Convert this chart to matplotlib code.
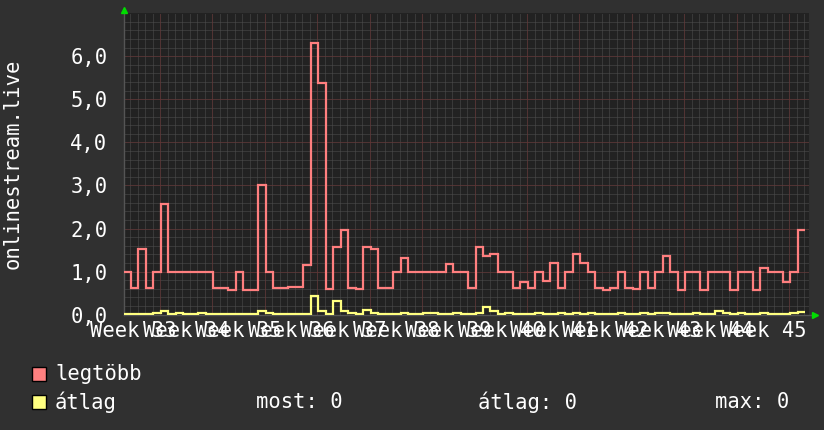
import matplotlib.pyplot as plt
from matplotlib.patches import Rectangle
import numpy as np

W, H, DPI = 824, 430, 100

# ── data: one value per day, 91 days ─────────────────────────────────────────
legtobb = [
    1.0, 0.63, 1.53, 0.63, 1.0, 2.56, 1.0, 1.0, 1.0, 1.0,
    1.0, 1.0, 0.63, 0.63, 0.57, 1.0, 0.57, 0.57, 3.0, 1.0,
    0.61, 0.61, 0.64, 0.64, 1.15, 6.31, 5.37, 0.59, 1.56, 1.97,
    0.61, 0.59, 1.58, 1.53, 0.61, 0.61, 1.0, 1.31, 1.0, 1.0,
    1.0, 1.0, 1.0, 1.18, 1.0, 1.0, 0.63, 1.56, 1.36, 1.42,
    1.0, 1.0, 0.61, 0.77, 0.61, 1.0, 0.79, 1.21, 0.61, 1.0,
    1.40, 1.19, 1.0, 0.61, 0.57, 0.61, 1.0, 0.61, 0.60, 1.0,
    0.61, 1.0, 1.37, 1.0, 0.57, 1.0, 1.0, 0.57, 1.0, 1.0,
    1.0, 0.57, 1.0, 1.0, 0.57, 1.09, 1.0, 1.0, 0.77, 1.0,
    1.97,
]
atlag = [
    0.02, 0.02, 0.02, 0.02, 0.05, 0.09, 0.02, 0.03, 0.02, 0.02,
    0.03, 0.02, 0.02, 0.02, 0.02, 0.02, 0.02, 0.02, 0.09, 0.04,
    0.02, 0.02, 0.02, 0.02, 0.02, 0.43, 0.09, 0.02, 0.32, 0.09,
    0.04, 0.02, 0.12, 0.05, 0.02, 0.02, 0.02, 0.05, 0.02, 0.02,
    0.03, 0.05, 0.02, 0.02, 0.03, 0.02, 0.02, 0.05, 0.18, 0.08,
    0.02, 0.03, 0.02, 0.02, 0.02, 0.03, 0.02, 0.02, 0.03, 0.02,
    0.03, 0.02, 0.05, 0.02, 0.02, 0.02, 0.03, 0.02, 0.02, 0.03,
    0.02, 0.03, 0.03, 0.02, 0.02, 0.02, 0.03, 0.02, 0.02, 0.08,
    0.04, 0.02, 0.03, 0.02, 0.02, 0.03, 0.02, 0.02, 0.02, 0.04,
    0.07,
]
week_labels = ["Week 33", "Week 34", "Week 35", "Week 36", "Week 37",
               "Week 38", "Week 39", "Week 40", "Week 41", "Week 42",
               "Week 43", "Week 44", "Week 45"]
y_ticks = [0, 1, 2, 3, 4, 5, 6]
y_tick_labels = ["0,0", "1,0", "2,0", "3,0", "4,0", "5,0", "6,0"]
legend_items = [("legtöbb", "#ff8080"), ("átlag", "#ffff80")]
stats = [("most: 0", 256), ("átlag: 0", 478), ("max: 0", 715)]

# ── style ────────────────────────────────────────────────────────────────────
BG = "#303030"
CANVAS = "#222222"
MINOR = "#505050"
MAJOR = "#6a2e2e"
FONT = "DejaVu Sans Mono"
FS = 14.8

X0, X1 = 0.07, 0.07 + 685 / 7.49
FIRST_MAJOR = 4.88

fig = plt.figure(figsize=(W / DPI, H / DPI), dpi=DPI, facecolor=BG)
ax = fig.add_axes([124 / W, (H - 314.7) / H, 685 / W, 301.6 / H], facecolor=CANVAS)
ax.set_xlim(X0, X1)
ax.set_ylim(0, 7)

# grid: daily / 0.2 minor, weekly / 1.0 major
for x in np.arange(FIRST_MAJOR - 4, X1, 1.0):
    ax.axvline(x, color=MINOR, lw=0.72, dashes=(1, 1), zorder=1)
for y in np.arange(0.2, 7.0, 0.2):
    ax.axhline(y, color=MINOR, lw=0.72, dashes=(1, 1), zorder=1)
for x in np.arange(FIRST_MAJOR, X1, 7.0):
    ax.axvline(x, color=MAJOR, lw=0.72, dashes=(1, 1), zorder=2)
for y in y_ticks[1:]:
    ax.axhline(y, color=MAJOR, lw=0.72, dashes=(1, 1), zorder=2)

edges = np.arange(len(legtobb) + 1)
ax.stairs(legtobb, edges, baseline=None, color="#ff7f7f", lw=1.6, zorder=4)
ax.stairs(atlag, edges, baseline=None, color="#ffff80", lw=1.6, zorder=5)

for s in ax.spines.values():
    s.set_visible(False)
ax.plot([X0, X1 + 0.3], [0, 0], color="#555555", lw=1, clip_on=False, zorder=3)
ax.plot([X0, X0], [0, 7.02], color="#555555", lw=1, clip_on=False, zorder=3)
ax.plot([X0], [7.07], marker="^", color="#00dd00", ms=4.5, clip_on=False, zorder=6)
ax.plot([X1 + 0.8], [0], marker=">", color="#00dd00", ms=4.5, clip_on=False, zorder=6)

ax.set_yticks(y_ticks)
ax.set_yticklabels(y_tick_labels, fontfamily=FONT, fontsize=FS, color="white")
ax.tick_params(axis="y", length=0, pad=12)
ax.set_xticks([])

label_pos = FIRST_MAJOR - 3.5 + 7 * np.arange(len(week_labels))
for xp, lab in zip(label_pos, week_labels):
    ax.text(xp, -0.055, lab, transform=ax.get_xaxis_transform(), ha="center",
            va="center", fontfamily=FONT, fontsize=FS, color="white", clip_on=False)

fig.text(13 / W, 1 - 164 / H, "onlinestream.live", rotation=90, ha="center",
         va="center", fontfamily=FONT, fontsize=FS, color="white")

# ── legend ───────────────────────────────────────────────────────────────────
for i, (name, col) in enumerate(legend_items):
    yc = 374 + 28 * i
    fig.add_artist(Rectangle((32 / W, 1 - (yc + 7) / H), 14 / W, 14 / H,
                             transform=fig.transFigure, facecolor=col,
                             edgecolor="black", lw=1))
    fig.text(55 / W, 1 - yc / H, name, ha="left", va="center",
             fontfamily=FONT, fontsize=FS, color="white")
for txt, xp in stats:
    fig.text(xp / W, 1 - 402 / H, txt, ha="left", va="center",
             fontfamily=FONT, fontsize=FS, color="white")

fig.savefig("out.png", dpi=DPI, facecolor=BG)
